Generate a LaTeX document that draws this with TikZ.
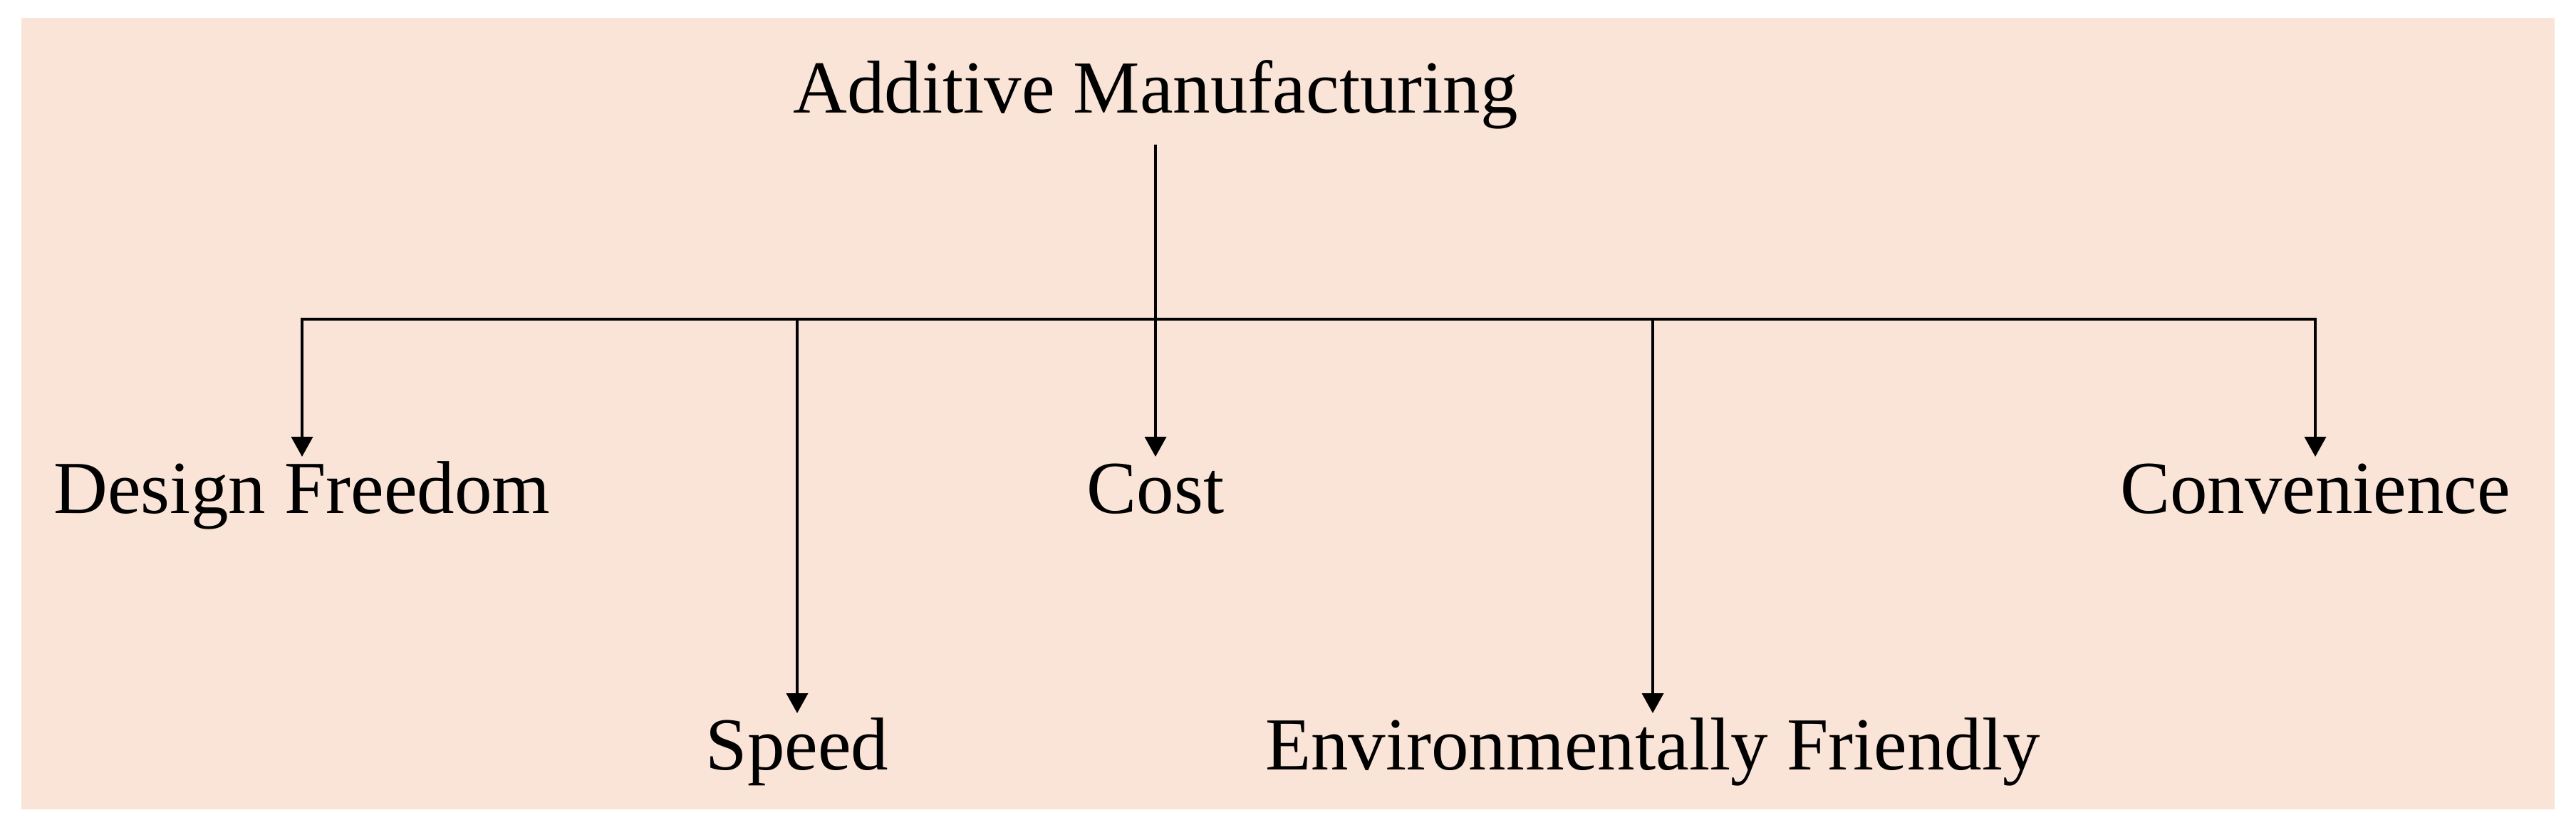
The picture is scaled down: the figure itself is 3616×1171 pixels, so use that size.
\documentclass[tikz,border=0pt]{standalone}
\usepackage{fontspec}
\setmainfont{Liberation Serif}
\usetikzlibrary{arrows.meta}
\definecolor{peach}{RGB}{249,228,215}
\tikzset{
  lbl/.style={anchor=base, inner sep=0pt, outer sep=0pt, font=\fontsize{10.5}{12}\selectfont},
  child/.style={lbl, text height=7.3pt, text depth=2.3pt, outer sep=0.6pt},
  conn/.style={line width=0.38pt, black},
  arr/.style={conn, -{Triangle[width=3pt,length=2.8pt]}}
}
\begin{document}
\begin{tikzpicture}[x=0.1pt,y=-0.1pt]
\useasboundingbox (0,0) rectangle (3616,1171);
\fill[peach] (30,25) rectangle (3586,1136);
\node[lbl] (am) at (1622,158) {Additive Manufacturing};
\node[child] (df) at (424,720) {Design Freedom};
\node[child] (cost) at (1622,720) {Cost};
\node[child] (conv) at (3250,720) {Convenience};
\node[child] (speed) at (1119,1080) {Speed};
\node[child] (env) at (2320,1080) {Environmentally Friendly};
\coordinate (barM) at (1622,448);
\draw[arr, shorten <=2.1pt] (am.base |- 0,182) -- (cost.north);
\draw[arr] (barM) -- (df.north |- barM) -- (df.north);
\draw[arr] (barM) -- (conv.north |- barM) -- (conv.north);
\draw[arr] (speed.north |- barM) -- (speed.north);
\draw[arr] (env.north |- barM) -- (env.north);
\end{tikzpicture}
\end{document}
